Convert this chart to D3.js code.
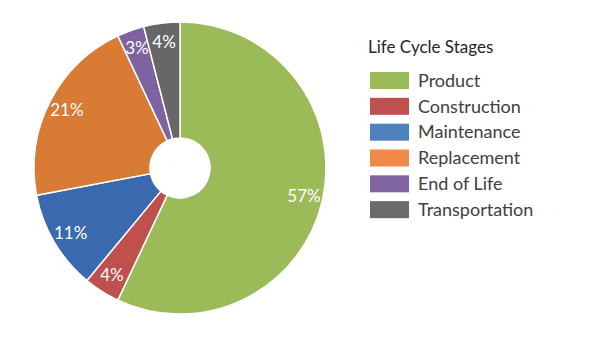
<!DOCTYPE html>
<html>
<head>
<meta charset="utf-8">
<script src="https://cdn.jsdelivr.net/npm/d3@7"></script>
<style>
	body { margin: 0; background: #fff; }
	svg { display: block; font-family: Lato, "Open Sans", sans-serif; }
</style>
</head>
<body>
<svg id="canvas"></svg>
<script>
// life cycle stage shares, clockwise from 12 o'clock
const stages = ['Product', 'Construction', 'Maintenance', 'Replacement', 'End of Life', 'Transportation'];
const shares = [57, 4, 11, 21, 3, 4];
const sliceColors = ['#9bbb59', '#c0504d', '#3b69af', '#d77b35', '#7f63a1', '#676767'];
const legendColors = ['#9bbb59', '#c0504d', '#4f81bd', '#f0894a', '#8064a2', '#6a6a6a'];
const legendTitle = 'Life Cycle Stages';

const w = 590;
const h = 342;
const cx = 180;
const cy = 168;
const outerR = 146;
const innerR = 30;
const labelR = 127;

const svg = d3.select('#canvas').attr('width', w).attr('height', h);

const dataset = stages.map((s, i) => ({ stage: s, value: shares[i], color: sliceColors[i], swatch: legendColors[i] }));

const pie = d3.pie().sort(null).value((d) => d.value);
const arc = d3.arc().innerRadius(innerR).outerRadius(outerR);
const labelArc = d3.arc().innerRadius(labelR).outerRadius(labelR);

const g = svg.append('g').attr('transform', 'translate(' + cx + ',' + cy + ')');

const slices = pie(dataset);

g.selectAll('path')
	.data(slices)
	.enter()
	.append('path')
	.attr('d', arc)
	.attr('fill', (d) => d.data.color)
	.attr('stroke', '#fff')
	.attr('stroke-width', 1.5);

g.selectAll('text')
	.data(slices)
	.enter()
	.append('text')
	.attr('transform', (d) => 'translate(' + labelArc.centroid(d) + ')')
	.attr('text-anchor', 'middle')
	.attr('dy', '0.35em')
	.attr('fill', '#fff')
	.style('font-size', '17px')
	.text((d) => d.data.value + '%');

// legend
const legend = svg.append('g').attr('transform', 'translate(368,0)');

legend.append('text')
	.attr('x', 0)
	.attr('y', 53)
	.attr('fill', '#262626')
	.style('font-size', '17px')
	.text(legendTitle);

const rowY = d3.scaleBand().domain(stages).range([72, 227]).paddingInner(0);

const rows = legend.selectAll('g.row')
	.data(dataset)
	.enter()
	.append('g')
	.attr('class', 'row')
	.attr('transform', (d) => 'translate(0,' + rowY(d.stage) + ')');

rows.append('rect')
	.attr('x', 2)
	.attr('y', 0)
	.attr('width', 39)
	.attr('height', 17)
	.attr('fill', (d) => d.swatch);

rows.append('text')
	.attr('x', 50)
	.attr('y', 8.5)
	.attr('dy', '0.35em')
	.attr('fill', '#404040')
	.style('font-size', '18px')
	.text((d) => d.stage);
</script>
</body>
</html>
